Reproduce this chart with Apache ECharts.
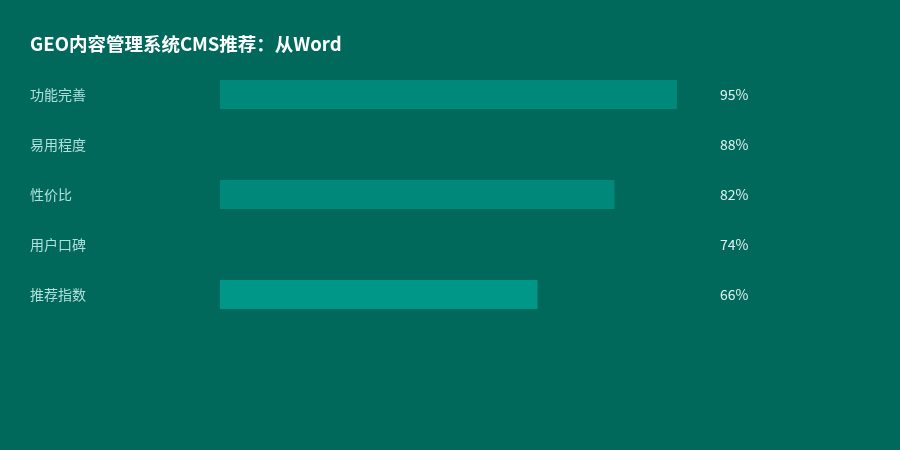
<!DOCTYPE html>
<html>
<head>
<meta charset="utf-8">
<script src="https://cdn.jsdelivr.net/npm/echarts@6/dist/echarts.min.js"></script>
<style>
html,body{margin:0;padding:0;background:#00695c;}
#chart{width:900px;height:450px;}
</style>
</head>
<body>
<div id="chart"></div>
<script>
const titleText = 'GEO内容管理系统CMS推荐：从Word';
const categories = ['功能完善', '易用程度', '性价比', '用户口碑', '推荐指数'];
const values = [95, 88, 82, 74, 66];
const valueLabels = ['95%', '88%', '82%', '74%', '66%'];
const barColors = ['#00897b', '#00695c', '#00897b', '#00695c', '#009688'];

const chart = echarts.init(document.getElementById('chart'));
chart.setOption({
  backgroundColor: '#00695c',
  animation: false,
  title: {
    text: titleText,
    left: 30,
    top: 35,
    padding: 0,
    textStyle: {
      color: '#ffffff',
      fontSize: 18.5,
      fontWeight: 'bold',
      fontFamily: 'Noto Sans CJK SC'
    }
  },
  grid: { left: 220, right: 199, top: 69.5, height: 250, containLabel: false },
  xAxis: {
    type: 'value', min: 0, max: 100, show: false
  },
  yAxis: [
    {
      type: 'category',
      data: categories,
      inverse: true,
      axisLine: { show: false },
      axisTick: { show: false },
      splitLine: { show: false },
      axisLabel: {
        align: 'left',
        margin: 190,
        padding: [0, 0, 2, 0],
        color: '#b2dfdb',
        fontSize: 14,
        fontFamily: 'Noto Sans CJK SC'
      }
    },
    {
      type: 'category',
      data: valueLabels,
      inverse: true,
      position: 'right',
      axisLine: { show: false },
      axisTick: { show: false },
      splitLine: { show: false },
      axisLabel: {
        align: 'left',
        margin: 19,
        padding: [0, 0, 2, 0],
        color: '#e0f2f1',
        fontSize: 14,
        fontFamily: 'Noto Sans CJK SC'
      }
    }
  ],
  series: [{
    type: 'bar',
    data: values.map((v, i) => ({ value: v, itemStyle: { color: barColors[i] } })),
    barWidth: 29,
    silent: true
  }]
});
</script>
</body>
</html>
